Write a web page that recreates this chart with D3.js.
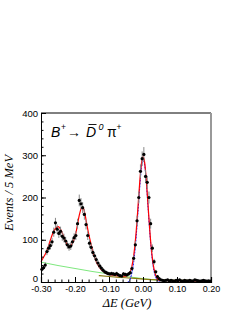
<!DOCTYPE html>
<html>
<head>
<meta charset="utf-8">
<script src="https://cdn.jsdelivr.net/npm/d3@7"></script>
<style>
body { margin: 0; background: #fff; }
</style>
</head>
<body>
<svg id="chart" width="245" height="317"></svg>
<script>
// 5 MeV bins from -0.30 to 0.20 GeV
const binStart = -0.3;
const binWidth = 0.005;
const counts = [
	30, 34, 40, 72, 80, 86, 95, 118, 140, 125,
	115, 120, 108, 104, 97, 88, 83, 85, 95, 105,
	110, 138, 193, 185, 176, 160, 136, 110, 92, 82,
	70, 62, 53, 45, 38, 33, 28, 24, 22, 20,
	19, 20, 19, 18, 20, 17, 15, 14, 19, 18,
	17, 19, 22, 32, 56, 88, 145, 200, 262, 292,
	302, 250, 236, 200, 138, 80, 48, 24, 13, 8,
	5, 4, 3, 4, 5, 3, 4, 3, 2, 4,
	3, 5, 3, 2, 4, 3, 3, 4, 2, 3,
	5, 4, 3, 2, 3, 4, 3, 2, 3, 2
];

// total fit (red)
const fitX = [-0.3, -0.295, -0.29, -0.285, -0.28, -0.275, -0.27, -0.265, -0.26, -0.255,
	-0.25, -0.245, -0.24, -0.235, -0.23, -0.225, -0.22, -0.215, -0.21, -0.205,
	-0.2, -0.195, -0.19, -0.185, -0.18, -0.175, -0.17, -0.165, -0.16, -0.155,
	-0.15, -0.145, -0.14, -0.135, -0.13, -0.125, -0.12, -0.115, -0.11, -0.1,
	-0.09, -0.08, -0.07, -0.06, -0.05, -0.045, -0.04, -0.035, -0.03, -0.025,
	-0.02, -0.015, -0.01, -0.005, 0, 0.005, 0.01, 0.015, 0.02, 0.025,
	0.03, 0.035, 0.04, 0.045, 0.05, 0.06, 0.1, 0.15, 0.2];
const fitTotal = [48, 55, 62, 70, 80, 93, 105, 116, 124, 129,
	131, 128, 121, 111, 100, 91, 85, 84, 88, 96,
	108, 125, 148, 166, 176, 174, 158, 135, 115, 97,
	80, 65, 53, 44, 37, 31, 27, 24, 21, 18,
	16, 15, 15, 14, 14, 16, 21, 30, 48, 78,
	120, 175, 232, 278, 297, 282, 238, 180, 122, 75,
	42, 22, 11, 6, 4, 3.5, 3, 2.5, 2];

// signal (blue dashed)
const sigX = [-0.045, -0.04, -0.035, -0.03, -0.025, -0.02, -0.015, -0.01, -0.005, 0,
	0.005, 0.01, 0.015, 0.02, 0.025, 0.03, 0.035, 0.04, 0.045, 0.05];
const sigY = [0, 3, 14, 33, 64, 108, 163, 220, 268, 290,
	277, 233, 175, 117, 70, 37, 17, 7, 2, 0];

// peaking background (green)
const bkgX = [-0.3, -0.25, -0.2, -0.15, -0.1, -0.05, 0, 0.045];
const bkgY = [47, 39, 32, 25, 19, 13, 8, 4];

// combinatorial background (olive)
const combX = [-0.13, -0.1, -0.05, 0, 0.05, 0.1, 0.15, 0.2];
const combY = [15, 13, 10, 7, 5, 4, 3.5, 3];

const xMajor = [-0.3, -0.2, -0.1, 0, 0.1, 0.2];
const yMajor = [0, 100, 200, 300, 400];

const svg = d3.select('#chart');
const x = d3.scaleLinear().domain([-0.3, 0.2]).range([41, 211]);
const y = d3.scaleLinear().domain([0, 400]).range([282, 113]);

// frame
svg.append('line').attr('x1', 41).attr('x2', 211).attr('y1', 113).attr('y2', 113)
	.attr('stroke', '#000').attr('stroke-width', 1);
svg.append('line').attr('x1', 211).attr('x2', 211).attr('y1', 113).attr('y2', 282)
	.attr('stroke', '#999').attr('stroke-width', 2);

// curves
const line = d3.line().x(d => x(d[0])).y(d => y(d[1])).curve(d3.curveMonotoneX);

svg.append('path').attr('d', line(bkgX.map((v, i) => [v, bkgY[i]])))
	.attr('fill', 'none').attr('stroke', '#7ee87e').attr('stroke-width', 1);
svg.append('path').attr('d', line(combX.map((v, i) => [v, combY[i]])))
	.attr('fill', 'none').attr('stroke', '#8a7a10').attr('stroke-width', 1.2);
svg.append('path').attr('d', line(sigX.map((v, i) => [v, sigY[i]])))
	.attr('fill', 'none').attr('stroke', '#0000ff').attr('stroke-width', 1)
	.attr('stroke-dasharray', '2,1');
svg.append('path').attr('d', line(fitX.map((v, i) => [v, fitTotal[i]])))
	.attr('fill', 'none').attr('stroke', '#ff0000').attr('stroke-width', 1.2);

// data points
const pts = counts.map((c, i) => ({ x: binStart + binWidth * (i + 0.5), n: c }));

svg.selectAll('line.err')
	.data(pts)
	.enter()
	.append('line')
	.attr('class', 'err')
	.attr('x1', d => x(d.x)).attr('x2', d => x(d.x))
	.attr('y1', d => y(d.n + Math.sqrt(d.n)))
	.attr('y2', d => y(Math.max(0, d.n - Math.sqrt(d.n))))
	.attr('stroke', '#888').attr('stroke-width', 1);

svg.selectAll('line.herr')
	.data(pts)
	.enter()
	.append('line')
	.attr('class', 'herr')
	.attr('x1', d => x(d.x - binWidth / 2)).attr('x2', d => x(d.x + binWidth / 2))
	.attr('y1', d => y(d.n)).attr('y2', d => y(d.n))
	.attr('stroke', '#888').attr('stroke-width', 1);

svg.selectAll('circle')
	.data(pts)
	.enter()
	.append('circle')
	.attr('cx', d => x(d.x))
	.attr('cy', d => y(d.n))
	.attr('r', 1.6)
	.attr('fill', '#000');

// axes
const fmt = d => d.toFixed(2);
svg.append('g').attr('transform', 'translate(0,282)')
	.call(d3.axisBottom(x).tickValues(d3.range(-0.3, 0.201, 0.02)).tickSize(-2.5).tickFormat(''))
	.call(g => g.select('.domain').remove());
svg.append('g').attr('transform', 'translate(0,282)')
	.call(d3.axisBottom(x).tickValues(xMajor).tickSize(-5).tickFormat(fmt).tickPadding(4))
	.call(g => g.select('.domain').attr('stroke-width', 1.2))
	.call(g => g.selectAll('text').attr('font-family', 'Liberation Sans, Arial, sans-serif')
		.attr('font-size', 9).attr('fill', '#000'));

svg.append('g').attr('transform', 'translate(41,0)')
	.call(d3.axisLeft(y).tickValues(d3.range(0, 401, 20)).tickSize(-2.5).tickFormat(''))
	.call(g => g.select('.domain').remove());
svg.append('g').attr('transform', 'translate(41,0)')
	.call(d3.axisLeft(y).tickValues(yMajor).tickSize(-5).tickPadding(3))
	.call(g => g.selectAll('text').attr('font-family', 'Liberation Sans, Arial, sans-serif')
		.attr('font-size', 9.5).attr('fill', '#000'))
	.call(g => g.selectAll('text').filter(d => d === 0).attr('dy', '-0.05em'));

// axis titles
svg.append('text')
	.attr('transform', 'translate(13,193) rotate(-90)')
	.attr('text-anchor', 'middle')
	.attr('font-family', 'Liberation Serif, Times New Roman, serif')
	.attr('font-style', 'italic')
	.attr('font-size', 12.5)
	.text('Events / 5 MeV');

svg.append('text')
	.attr('x', 127).attr('y', 307)
	.attr('text-anchor', 'middle')
	.attr('font-family', 'Liberation Serif, Times New Roman, serif')
	.attr('font-style', 'italic')
	.attr('font-size', 12.5)
	.text('\u0394E (GeV)');

// decay label
const lab = svg.append('g').attr('font-family', 'Liberation Sans, Arial, sans-serif').attr('fill', '#000');
lab.append('text').attr('x', 51).attr('y', 137).attr('font-size', 14).attr('font-style', 'italic').text('B');
lab.append('text').attr('x', 61).attr('y', 130).attr('font-size', 8.5).text('+');
lab.append('text').attr('x', 67).attr('y', 137).attr('font-size', 14).text('\u2192');
lab.append('text').attr('x', 86).attr('y', 137).attr('font-size', 14).attr('font-style', 'italic').text('D');
lab.append('line').attr('x1', 88.5).attr('x2', 96.5).attr('y1', 124.5).attr('y2', 124.5)
	.attr('stroke', '#000').attr('stroke-width', 0.9);
lab.append('text').attr('x', 98.5).attr('y', 130).attr('font-size', 9).attr('font-style', 'italic').text('0');
lab.append('text').attr('x', 107).attr('y', 137).attr('font-size', 14).text('\u03c0');
lab.append('text').attr('x', 116.5).attr('y', 130).attr('font-size', 8.5).text('+');
</script>
</body>
</html>
